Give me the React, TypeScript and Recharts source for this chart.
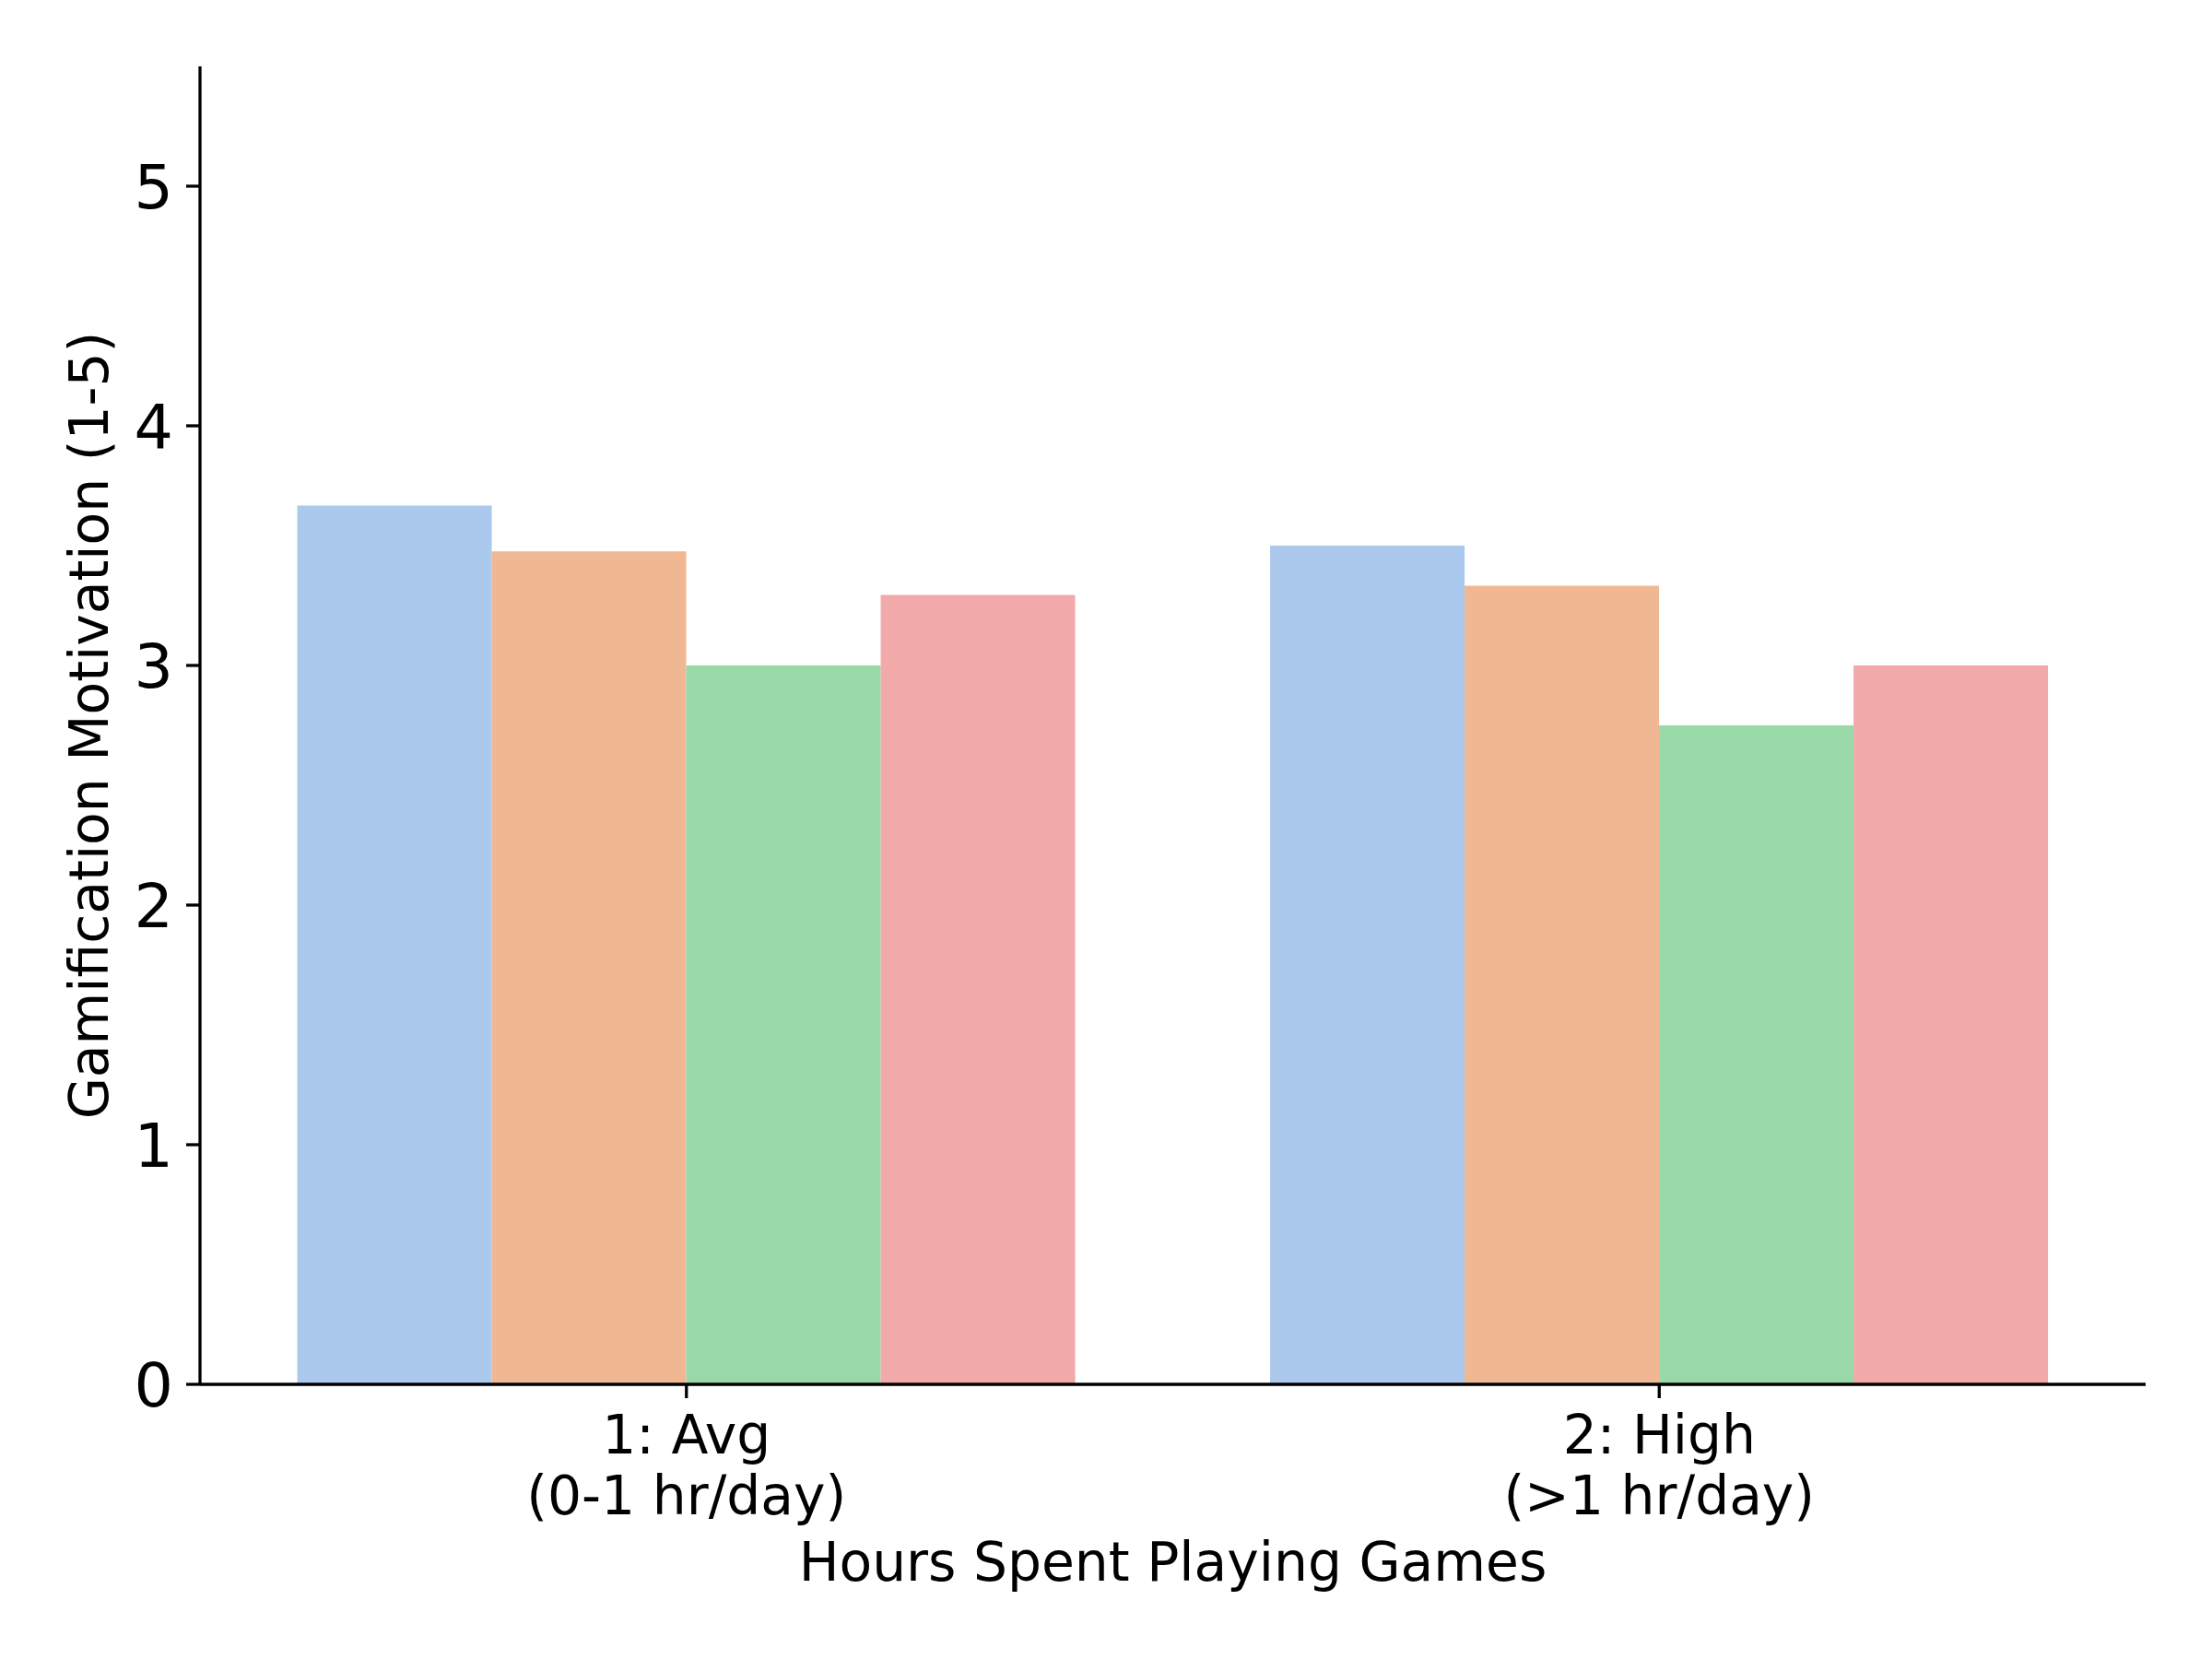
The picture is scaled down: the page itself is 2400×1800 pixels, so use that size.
import { Bar, BarChart, Label, XAxis, YAxis } from "recharts";

const groups = ["1: Avg\n(0-1 hr/day)", "2: High\n(>1 hr/day)"];
const seriesA = [3.667, 3.5];
const seriesB = [3.476, 3.333];
const seriesC = [3.0, 2.75];
const seriesD = [3.294, 3.0];
const yTicks = [0, 1, 2, 3, 4, 5];

const colors = ["#ABC9EC", "#F0B793", "#99D9A8", "#F1AAA9"];
const font = "'DejaVu Sans', sans-serif";

const data = groups.map((group, i) => ({
  group,
  a: seriesA[i],
  b: seriesB[i],
  c: seriesC[i],
  d: seriesD[i],
}));

function GroupTick({ x, y, payload }: any) {
  const lines = String(payload.value).split("\n");
  return (
    <text x={x} y={y} textAnchor="middle" fontSize={58.3} fontFamily={font} fill="#000">
      {lines.map((line, i) => (
        <tspan key={i} x={x} dy={i === 0 ? 45 : 66}>
          {line}
        </tspan>
      ))}
    </text>
  );
}

export default function App() {
  return (
    <div style={{ position: "absolute", left: 0, top: 0, background: "#fff" }}>
      <BarChart
        width={2400}
        height={1800}
        data={data}
        margin={{ top: 72, right: 72, bottom: 0, left: 117 }}
        barCategoryGap="10%"
        barGap={0}
      >
        <XAxis
          dataKey="group"
          height={298}
          tick={<GroupTick />}
          tickSize={15}
          tickMargin={15}
          interval={0}
          stroke="#000"
          strokeWidth={3.3}
          tickLine={{ stroke: "#000", strokeWidth: 3.3 }}
        >
          <Label
            content={({ viewBox }: any) => (
              <text
                x={viewBox.x + viewBox.width / 2}
                y={viewBox.y + 213}
                textAnchor="middle"
                fontSize={58.3}
                fontFamily={font}
                fill="#000"
              >
                Hours Spent Playing Games
              </text>
            )}
          />
        </XAxis>
        <YAxis
          width={100}
          domain={[0, 5.5]}
          ticks={yTicks}
          allowDataOverflow
          tickSize={15}
          tickMargin={14}
          stroke="#000"
          strokeWidth={3.3}
          tickLine={{ stroke: "#000", strokeWidth: 3.3 }}
          tick={{ fontSize: 66.7, fontFamily: font, fill: "#000" }}
        >
          <Label
            content={({ viewBox }: any) => {
              const cx = viewBox.x;
              const cy = viewBox.y + viewBox.height / 2;
              return (
                <text
                  x={cx}
                  y={cy}
                  transform={`rotate(-90 ${cx} ${cy})`}
                  textAnchor="middle"
                  fontSize={58.3}
                  fontFamily={font}
                  fill="#000"
                >
                  Gamification Motivation (1-5)
                </text>
              );
            }}
          />
        </YAxis>
        <Bar dataKey="a" fill={colors[0]} isAnimationActive={false} />
        <Bar dataKey="b" fill={colors[1]} isAnimationActive={false} />
        <Bar dataKey="c" fill={colors[2]} isAnimationActive={false} />
        <Bar dataKey="d" fill={colors[3]} isAnimationActive={false} />
      </BarChart>
    </div>
  );
}
